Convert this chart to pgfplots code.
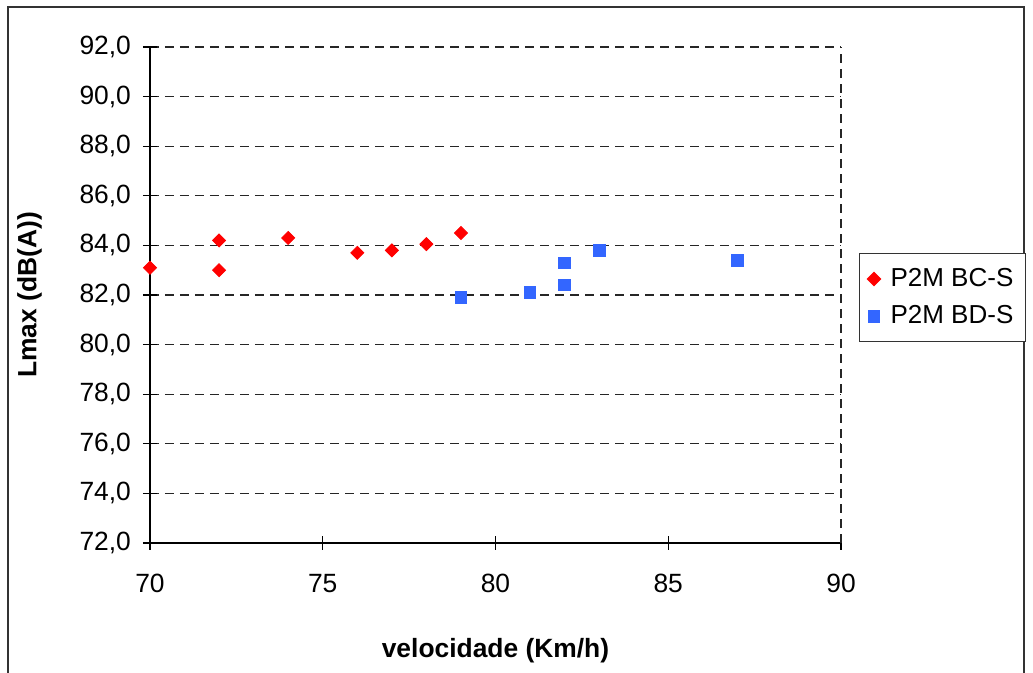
\documentclass[border=0pt]{standalone}
\usepackage{pgfplots}
\pgfplotsset{compat=1.18}
\usepackage{fontspec}
\setmainfont{Liberation Sans}
\definecolor{myblue}{HTML}{3366FF}
\begin{document}
\begin{tikzpicture}
\useasboundingbox (0,0) rectangle (516.5pt,336.5pt);
\draw[line width=1pt, black!80] (4pt,-3pt) -- (4pt,333pt) -- (512pt,333pt) -- (512pt,-3pt);
\begin{axis}[
  at={(75pt,65pt)}, anchor=south west,
  scale only axis, width=345.5pt, height=248pt,
  xmin=70, xmax=90, ymin=72, ymax=92,
  xtick={70,75,...,90}, ytick={72,74,...,92},
  axis x line=bottom, axis y line=left,
  axis line style={-, line width=0.7pt},
  xtick align=center, ytick align=center,
  ymajorgrids=true,
  extra x ticks={90}, extra x tick style={xmajorgrids=true, xticklabels={}, major tick length=0pt},
  grid style={dashed, dash pattern=on 4.5pt off 3pt, black!85, line width=0.6pt},
  major tick length=7pt,
  tick style={black, line width=0.6pt},
  font=\fontsize{13.2}{16}\selectfont,
  /pgf/number format/assume math mode=true,
  yticklabel style={xshift=-2.5pt, /pgf/number format/.cd, fixed, fixed zerofill, precision=1, use comma},
  xticklabel style={yshift=-8.5pt, /pgf/number format/.cd, fixed},
  xlabel={\textbf{velocidade (Km/h)}},
  ylabel={\textbf{Lmax (dB(A))}},
  xlabel style={yshift=-12.5pt},
  ylabel style={yshift=12pt},
  legend style={at={(1.026,0.585)}, anchor=north west, draw=black!80, line width=0.6pt, font=\fontsize{13}{15.5}\selectfont, row sep=4pt, inner xsep=4pt, inner ysep=5.5pt,
    /tikz/every odd column/.append style={column sep=3pt}},
  legend cell align=left,
  clip=false,
]
\addplot[only marks, mark=square*, mark size=2.3pt, mark options={rotate=45, fill=red, draw=red}] coordinates {
(70,83.1) (72,84.2) (72,83.0) (74,84.3) (76,83.7) (77,83.8) (78,84.05) (79,84.5)
};
\addlegendentry{P2M BC-S}
\addplot[only marks, mark=square*, mark size=2.9pt, mark options={fill=myblue, draw=myblue}] coordinates {
(79,81.9) (81,82.1) (82,83.3) (82,82.4) (83,83.8) (87,83.4)
};
\addlegendentry{P2M BD-S}
\end{axis}
\end{tikzpicture}
\end{document}
